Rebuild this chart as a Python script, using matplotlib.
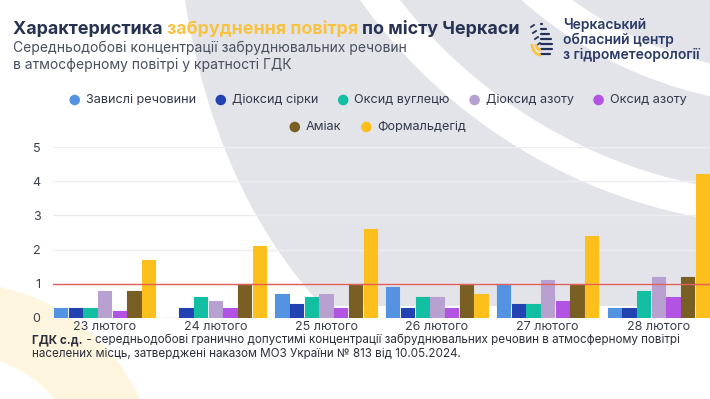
import matplotlib
matplotlib.use('Agg')
import matplotlib.pyplot as plt
import numpy as np
from matplotlib.patches import Wedge, Arc

plt.rcParams['font.family'] = ['Inter', 'DejaVu Sans']

# data
days = ['23 лютого', '24 лютого', '25 лютого', '26 лютого', '27 лютого', '28 лютого']
pollutants = ['Завислі речовини', 'Діоксид сірки', 'Оксид вуглецю', 'Діоксид азоту',
              'Оксид азоту', 'Аміак', 'Формальдегід']
suspended = [0.3, 0.0, 0.7, 0.9, 1.0, 0.3]
so2 = [0.3, 0.3, 0.4, 0.3, 0.4, 0.3]
co = [0.3, 0.6, 0.6, 0.6, 0.4, 0.8]
no2 = [0.8, 0.5, 0.7, 0.6, 1.1, 1.2]
no = [0.2, 0.3, 0.3, 0.3, 0.5, 0.6]
ammonia = [0.8, 1.0, 1.0, 1.0, 1.0, 1.2]
formaldehyde = [1.7, 2.1, 2.6, 0.7, 2.4, 4.2]
gdk_limit = 1
series = [suspended, so2, co, no2, no, ammonia, formaldehyde]
colors = ['#5393e2', '#2342b2', '#12bfa2', '#b8a0d1', '#b253e3', '#7a5f24', '#fcbf1c']

W, H = 710, 399
fig = plt.figure(figsize=(W / 100, H / 100), dpi=100)

# background decorations (pixel coords, y down)
bg = fig.add_axes([0, 0, 1, 1], zorder=-1)
bg.set_xlim(0, W)
bg.set_ylim(H, 0)
bg.axis('off')
gray = '#e3e4ea'
tt = np.linspace(0, 1, 60)
p0, p1, p2 = np.array([185, 0]), np.array([215, 190]), np.array([322, 306])
curve = ((1 - tt) ** 2)[:, None] * p0 + (2 * (1 - tt) * tt)[:, None] * p1 + (tt ** 2)[:, None] * p2
gx = list(curve[:, 0]) + [710, 710]
gy = list(curve[:, 1]) + [306, 0]
bg.fill(gx, gy, color=gray, lw=0, zorder=0)
bg.add_patch(Wedge((800, -313), 540, 0, 360, width=32, facecolor='white', edgecolor='none', zorder=1))
bg.add_patch(Wedge((800, -313), 419, 0, 360, width=32, facecolor='white', edgecolor='none', zorder=1))
bg.add_patch(Wedge((-40, 480), 197, 0, 360, width=72, facecolor='#fdf5de', edgecolor='none', zorder=1))

# title
navy = '#283352'
fig.canvas.draw()
rend = fig.canvas.get_renderer()
tx = 13
for part, col in [('Характеристика ', navy), ('забруднення повітря ', '#f6c343'),
                  ('по місту Черкаси', navy)]:
    t = bg.text(tx, 34, part, fontsize=12.9, fontweight='bold', color=col, va='baseline', zorder=5)
    tx += t.get_window_extent(rend).width
bg.text(13, 47.5, 'Середньодобові концентрації забруднювальних речовин', fontsize=10,
        color='#4a4f5e', va='center', zorder=5)
bg.text(13, 64.5, 'в атмосферному повітрі у кратності ГДК', fontsize=10,
        color='#4a4f5e', va='center', zorder=5)

# logo
for yy, x0, x1 in [(24, 539, 542), (29, 536, 546), (34, 534, 549), (39, 533, 551),
                   (44, 536, 552), (49, 540, 552), (54, 541, 550)]:
    bg.plot([max(x0, 541), x1], [yy, yy], color='#24335e', lw=1.6, solid_capstyle='round', zorder=5)
for k in range(4):
    bg.plot([531 + k * 2, 534 + k * 2], [27 + k * 6, 25 + k * 6], color='#24335e', lw=1.3, zorder=5)
bg.add_patch(Arc((541, 44), 18, 22, theta1=90, theta2=180, color='#f6c343', lw=2, zorder=5))
bg.add_patch(Arc((541, 44), 10, 12, theta1=90, theta2=180, color='#f6c343', lw=2, zorder=5))
for i, line in enumerate(['Черкаський', 'обласний центр', 'з гідрометеорології']):
    bg.text(563, 24.5 + i * 15.5, line, fontsize=10, fontweight='semibold',
            color='#2c3a68', va='center', zorder=5)

# legend (drawn by hand, two centered rows)
def legend_row(items, y, cx):
    widths = []
    texts = []
    for name in items:
        t = bg.text(0, y, name, fontsize=9.1, color='#33394a', va='center', zorder=5)
        texts.append(t)
        widths.append(t.get_window_extent(rend).width)
    gap_m, gap_i, dot = 11, 20, 10
    total = sum(dot / 2 + gap_m + w for w in widths) + gap_i * (len(items) - 1)
    x = cx - total / 2
    for name, t, w in zip(items, texts, widths):
        c = colors[pollutants.index(name)]
        bg.scatter([x + dot / 2], [y], s=58, color=c, edgecolors='none', zorder=5)
        t.set_x(x + dot / 2 + gap_m)
        x += dot / 2 + gap_m + w + gap_i

legend_row(pollutants[:5], 100, 378)
legend_row(pollutants[5:], 127, 378)

# chart
ax = fig.add_axes([53 / W, 1 - 318 / H, 657 / W, 171 / H])
ax.patch.set_alpha(0)
x = np.arange(len(days))
stride = 0.133
for i, vals in enumerate(series):
    ax.bar(x + (i - 3) * stride, vals, width=0.12, color=colors[i], edgecolor=colors[i],
           linewidth=0.8, joinstyle='round', zorder=3)
ax.axhline(gdk_limit, color='#e0605a', lw=1, zorder=4)
ax.set_xlim(-0.466, 5.466)
ax.set_ylim(0, 5)
ax.set_yticks(range(6))
ax.yaxis.grid(True, color='#eeeef2', lw=1, zorder=0)
ax.set_xticks(x)
ax.set_xticklabels(days)
ax.tick_params(length=0, labelsize=9, labelcolor='#3a3f4c')
ax.tick_params(axis='y', pad=9)
ax.tick_params(axis='x', pad=2)
for s in ax.spines.values():
    s.set_visible(False)

# footnote
fs = 8.4
t = bg.text(32, 340, 'ГДК с.д.', fontsize=fs, fontweight='bold', color='#2c2f3a', va='center', zorder=5)
w = t.get_window_extent(rend).width
bg.text(32 + w, 340, ' - середньодобові гранично допустимі концентрації забруднювальних речовин в атмосферному повітрі',
        fontsize=fs, color='#2c2f3a', va='center', zorder=5)
bg.text(32, 354, 'населених місць, затверджені наказом МОЗ України № 813 від 10.05.2024.',
        fontsize=fs, color='#2c2f3a', va='center', zorder=5)

fig.savefig('out.png', dpi=100)
